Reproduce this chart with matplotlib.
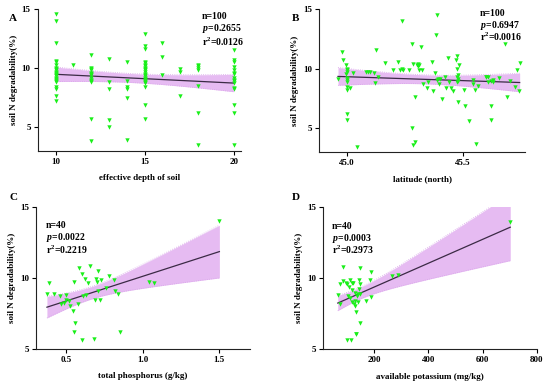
import numpy as np
import matplotlib
matplotlib.use('Agg')
import matplotlib.pyplot as plt

plt.rcParams['font.family'] = ['Liberation Serif', 'DejaVu Serif']
plt.rcParams['font.weight'] = 'bold'
plt.rcParams['axes.labelweight'] = 'bold'
plt.rcParams['mathtext.fontset'] = 'custom'
plt.rcParams['mathtext.rm'] = 'Liberation Serif:bold'
plt.rcParams['mathtext.it'] = 'Liberation Serif:italic:bold'
plt.rcParams['mathtext.bf'] = 'Liberation Serif:bold'

# ---- panel A: effective depth of soil ----
depth_groups = {
    10: [14.6, 14.0, 12.1, 10.6, 10.5, 10.3, 10.0, 9.9, 9.8, 9.7, 9.6, 9.5, 9.4, 9.3,
         9.2, 9.1, 9.0, 8.9, 8.8, 8.4, 8.2, 7.6, 7.2],
    11: [10.3],
    12: [11.1, 10.0, 9.9, 9.8, 9.6, 9.5, 9.4, 9.2, 9.0, 8.9, 8.8, 5.7, 3.8],
    13: [10.8, 8.8, 8.2, 5.6, 5.0],
    14: [10.5, 8.9, 8.4, 8.2, 7.5, 3.9],
    15: [12.9, 11.9, 11.6, 10.5, 10.4, 10.3, 10.2, 10.0, 9.9, 9.8, 9.7, 9.5, 9.4, 9.3,
         9.2, 9.1, 9.0, 8.9, 8.8, 8.7, 8.4, 6.9, 5.7],
    16: [12.1, 10.9, 9.4],
    17: [9.9, 9.7, 7.6],
    18: [10.3, 10.2, 10.0, 9.8, 8.5, 6.2, 3.5],
    20: [11.5, 10.7, 10.5, 10.1, 9.8, 9.6, 9.5, 9.2, 9.0, 8.9, 8.7, 8.3, 8.2, 6.9, 6.2, 3.5],
}
depth_x = np.concatenate([[k] * len(v) for k, v in depth_groups.items()]).astype(float)
depth_y = np.concatenate([v for v in depth_groups.values()])

# ---- panel B: latitude ----
lat_x = [44.961, 44.978, 44.982, 44.997, 44.999, 45.0, 45.002, 44.997, 44.999, 45.002, 45.0,
         45.011, 44.999, 44.999, 44.999, 45.043, 45.024, 45.083, 45.091, 45.118, 45.119,
         45.126, 45.136, 45.165, 45.201, 45.22, 45.237, 45.23, 45.237, 45.244, 45.28,
         45.284, 45.302, 45.306, 45.309, 45.312, 45.319, 45.323, 45.33, 45.295, 45.283,
         45.286, 45.295, 45.345, 45.352, 45.366, 45.37, 45.381, 45.388, 45.385, 45.388,
         45.394, 45.398, 45.402, 45.409, 45.424, 45.428, 45.435, 45.442, 45.452, 45.46,
         45.47, 45.478, 45.478, 45.478, 45.481, 45.481, 45.478, 45.48, 45.486, 45.507,
         45.51, 45.529, 45.543, 45.546, 45.553, 45.56, 45.568, 45.6, 45.608, 45.61,
         45.622, 45.625, 45.625, 45.632, 45.632, 45.658, 45.682, 45.693, 45.707, 45.728,
         45.737, 45.744, 45.747, 45.31, 45.48, 45.0, 45.1, 45.6, 45.27]
lat_y = [9.15, 11.42, 10.71, 10.34, 10.0, 9.86, 9.72, 9.58, 8.87, 8.44, 8.2, 8.39, 6.18,
         5.7, 9.2, 3.4, 9.63, 9.77, 9.75, 9.63, 8.78, 11.61, 9.29, 10.48, 9.86, 10.57,
         13.99, 9.86, 10.0, 9.92, 12.12, 10.42, 10.28, 10.42, 10.2, 9.86, 11.84, 9.86, 8.73,
         7.59, 5.04, 3.57, 3.85, 8.39, 8.87, 10.57, 8.16, 9.63, 14.53, 12.83, 9.07, 9.15,
         8.73, 9.15, 7.45, 9.35, 8.39, 10.93, 8.87, 8.39, 8.16, 10.76, 11.05, 10.0, 9.35,
         9.15, 9.0, 8.87, 7.17, 10.28, 8.2, 6.88, 5.61, 9.07, 8.73, 8.2, 3.68, 8.58, 9.29,
         9.29, 8.87, 9.0, 6.88, 5.7, 8.87, 9.07, 9.24, 12.07, 7.59, 9.0, 8.5, 9.86, 8.16,
         10.51, 10.3, 9.5, 9.1, 9.7, 9.3, 9.9]

# ---- panel C: total phosphorus ----
tp_x = [0.373, 0.384, 0.417, 0.461, 0.467, 0.487, 0.5, 0.5, 0.52, 0.526, 0.544, 0.552,
        0.555, 0.548, 0.574, 0.585, 0.603, 0.603, 0.609, 0.624, 0.631, 0.64, 0.657, 0.683,
        0.69, 0.697, 0.7, 0.707, 0.707, 0.718, 0.729, 0.762, 0.777, 0.81, 0.821, 0.836,
        0.85, 1.04, 1.07, 1.5]
tp_y = [8.85, 9.6, 8.85, 8.73, 8.19, 8.26, 8.78, 8.43, 8.38, 8.03, 7.63, 9.67, 6.85,
        6.15, 8.19, 10.68, 10.26, 5.63, 8.73, 9.91, 8.78, 9.6, 10.85, 5.68, 8.43, 9.91,
        9.74, 10.49, 9.08, 8.43, 9.84, 9.3, 10.14, 9.84, 9.08, 8.85, 6.15, 9.74, 9.6, 13.97]

# ---- panel D: available potassium ----
ak_x = [65, 72, 72, 84, 86, 94, 100, 100, 102, 112, 115, 117, 117, 118, 125, 127, 127,
        133, 133, 137, 140, 142, 143, 146, 146, 149, 149, 170, 183, 186, 189, 265, 288,
        702, 131, 112, 127, 105, 138, 120]
ak_y = [8.83, 8.17, 9.62, 9.81, 10.82, 9.69, 9.58, 5.63, 8.76, 9.86, 5.63, 9.15, 9.69,
        8.36, 8.22, 8.4, 8.05, 7.65, 6.1, 8.76, 8.87, 9.86, 9.23, 9.58, 6.88, 10.7, 8.87,
        8.4, 9.86, 10.47, 8.69, 10.16, 10.23, 13.94, 6.1, 8.64, 8.99, 9.4, 8.3, 9.7]

panels = [
    ('A', depth_x, depth_y, 'effective depth of soil', (9, 20.4), [10, 15, 20], (3, 15),
     ['n=100', r'$\it{p}$=0.2655', r'r$^2$=0.0126'], (0.807, 0.95, 0.09), 1.984,
     [0.0685, 0.611, 0.3695, 0.366]),
    ('B', np.array(lat_x), np.array(lat_y), 'latitude (north)', (44.88, 45.77), [45.0, 45.5], (3, 15),
     ['n=100', r'$\it{p}$=0.6947', r'r$^2$=0.0016'], (0.78, 0.968, 0.08), 1.984,
     [0.5805, 0.608, 0.374, 0.368]),
    ('C', np.array(tp_x), np.array(tp_y), 'total phosphorus (g/kg)', (0.3, 1.7), [0.5, 1.0, 1.5], (5, 15),
     ['n=40', r'$\it{p}$=0.0022', r'r$^2$=0.2219'], (0.047, 0.866, 0.083), 2.024,
     [0.065, 0.101, 0.3895, 0.366]),
    ('D', np.array(ak_x, dtype=float), np.array(ak_y), 'available potassium (mg/kg)', (10, 800),
     [200, 400, 600, 800], (5, 15),
     ['n=40', r'$\it{p}$=0.0003', r'r$^2$=0.2973'], (0.042, 0.866, 0.083), 2.024,
     [0.587, 0.0997, 0.389, 0.366]),
]

fig = plt.figure(figsize=(5.5, 3.88), dpi=100)

for label, x, y, xlabel, xlim, xticks, ylim, stats, tpos, tval, rect in panels:
    ax = fig.add_axes(rect)
    ax.scatter(x, y, marker='v', s=10, color='#19ef19', linewidths=0, zorder=3)

    # linear fit with 95% confidence band
    n = len(x)
    b, a = np.polyfit(x, y, 1)
    resid = y - (a + b * x)
    s = np.sqrt(np.sum(resid ** 2) / (n - 2))
    xm = x.mean()
    sxx = np.sum((x - xm) ** 2)
    xs = np.linspace(x.min(), x.max(), 200)
    ys = a + b * xs
    half = tval * s * np.sqrt(1.0 / n + (xs - xm) ** 2 / sxx)
    ax.fill_between(xs, ys - half, ys + half, color='#e6bbf2', lw=0, zorder=1)
    ax.plot(xs, ys - half, color='#d9a6ea', lw=0.6, ls=':', zorder=1)
    ax.plot(xs, ys + half, color='#d9a6ea', lw=0.6, ls=':', zorder=1)
    ax.plot(xs, ys, color='#3b2a45', lw=0.9, zorder=2)

    ax.set_xlim(*xlim)
    ax.set_ylim(*ylim)
    ax.set_xticks(xticks)
    ax.set_yticks([5, 10, 15])
    if label == 'B':
        ax.set_xticklabels(['45.0', '45.5'])
    if label == 'C':
        ax.set_xticklabels(['0.5', '1.0', '1.5'])
    ax.spines['top'].set_visible(False)
    ax.spines['right'].set_visible(False)
    for sp in ('left', 'bottom'):
        ax.spines[sp].set_linewidth(0.8)
        ax.spines[sp].set_color('#222222')
    ax.tick_params(length=3, width=0.8, labelsize=6.5, pad=2)
    ax.set_xlabel(xlabel, fontsize=6.5, labelpad=6)
    ax.set_ylabel('soil N degradability(%)', fontsize=6.5, labelpad=3)

    for i, t in enumerate(stats):
        ax.text(tpos[0], tpos[1] - i * tpos[2], t, transform=ax.transAxes,
                fontsize=7, fontweight='bold', va='center', ha='left')

fig.text(0.017, 0.945, 'A', fontsize=8, fontweight='bold')
fig.text(0.53, 0.945, 'B', fontsize=8, fontweight='bold')
fig.text(0.017, 0.485, 'C', fontsize=8, fontweight='bold')
fig.text(0.53, 0.485, 'D', fontsize=8, fontweight='bold')

fig.savefig('out.png', dpi=100)
